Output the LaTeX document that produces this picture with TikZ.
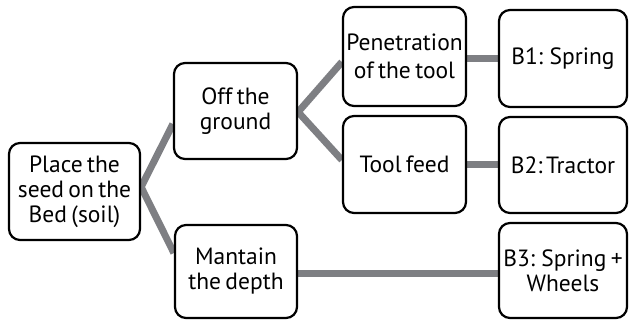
\documentclass[tikz,border=0pt]{standalone}
\usepackage{fontspec}
\setmainfont{PT Sans}[WordSpace=0.7]
\usetikzlibrary{calc,backgrounds}
\definecolor{linkgray}{RGB}{126,127,131}
\tikzset{
  box/.style={draw=black, line width=2.2pt, rounded corners=11pt, fill=white,
    align=center, inner sep=0pt, font=\fontsize{23.5}{25}\selectfont},
  link/.style={draw=linkgray, line width=7pt, line join=miter}
}
\begin{document}
\begin{tikzpicture}[x=1pt,y=-1pt]
\useasboundingbox (0,0) rectangle (629,321);

% boxes of the tree
\node[box, minimum width=131pt, minimum height=97pt] (place) at (74.5,191.5) {Place the\\seed on the\\Bed (soil)};
\node[box, minimum width=123pt, minimum height=96pt] (off) at (235.5,111) {Off the\\ground};
\node[box, minimum width=122pt, minimum height=93pt] (mant) at (236,271.5) {Mantain\\the depth};
\node[box, minimum width=123pt, minimum height=99pt, font=\fontsize{23.5}{28}\selectfont] (pen) at (404.5,56.5) {Penetration\\of the tool};
\node[box, minimum width=128pt, minimum height=97pt] (b1) at (563,58.5) {B1: Spring};
\node[box, minimum width=123pt, minimum height=97pt] (tool) at (404.5,164.5) {Tool feed};
\node[box, minimum width=128pt, minimum height=96pt] (b2) at (563,165) {B2:\hspace{3.5pt}Tractor};
\node[box, minimum width=128pt, minimum height=95pt] (b3) at (563,270.5) {B3: Spring +\\Wheels};

% connectors behind the boxes
\begin{scope}[on background layer]
\draw[link] ($(off.west)+(0,13)$) -- ($(place.east)+(0,-4.5)$) -- ($(mant.west)+(0,-18.5)$);
\draw[link] ($(pen.west)+(0,5.5)$) -- ($(off.east)+(0,1)$) -- ($(tool.west)+(0,-4.5)$);
\draw[link] (pen.east |- b1.west) -- (b1.west);
\draw[link] (tool.east) -- (tool.east -| b2.west);
\draw[link] ($(mant.east)+(0,1.5)$) -- ($(mant.east -| b3.west)+(0,1.5)$);
\end{scope}
\end{tikzpicture}
\end{document}
